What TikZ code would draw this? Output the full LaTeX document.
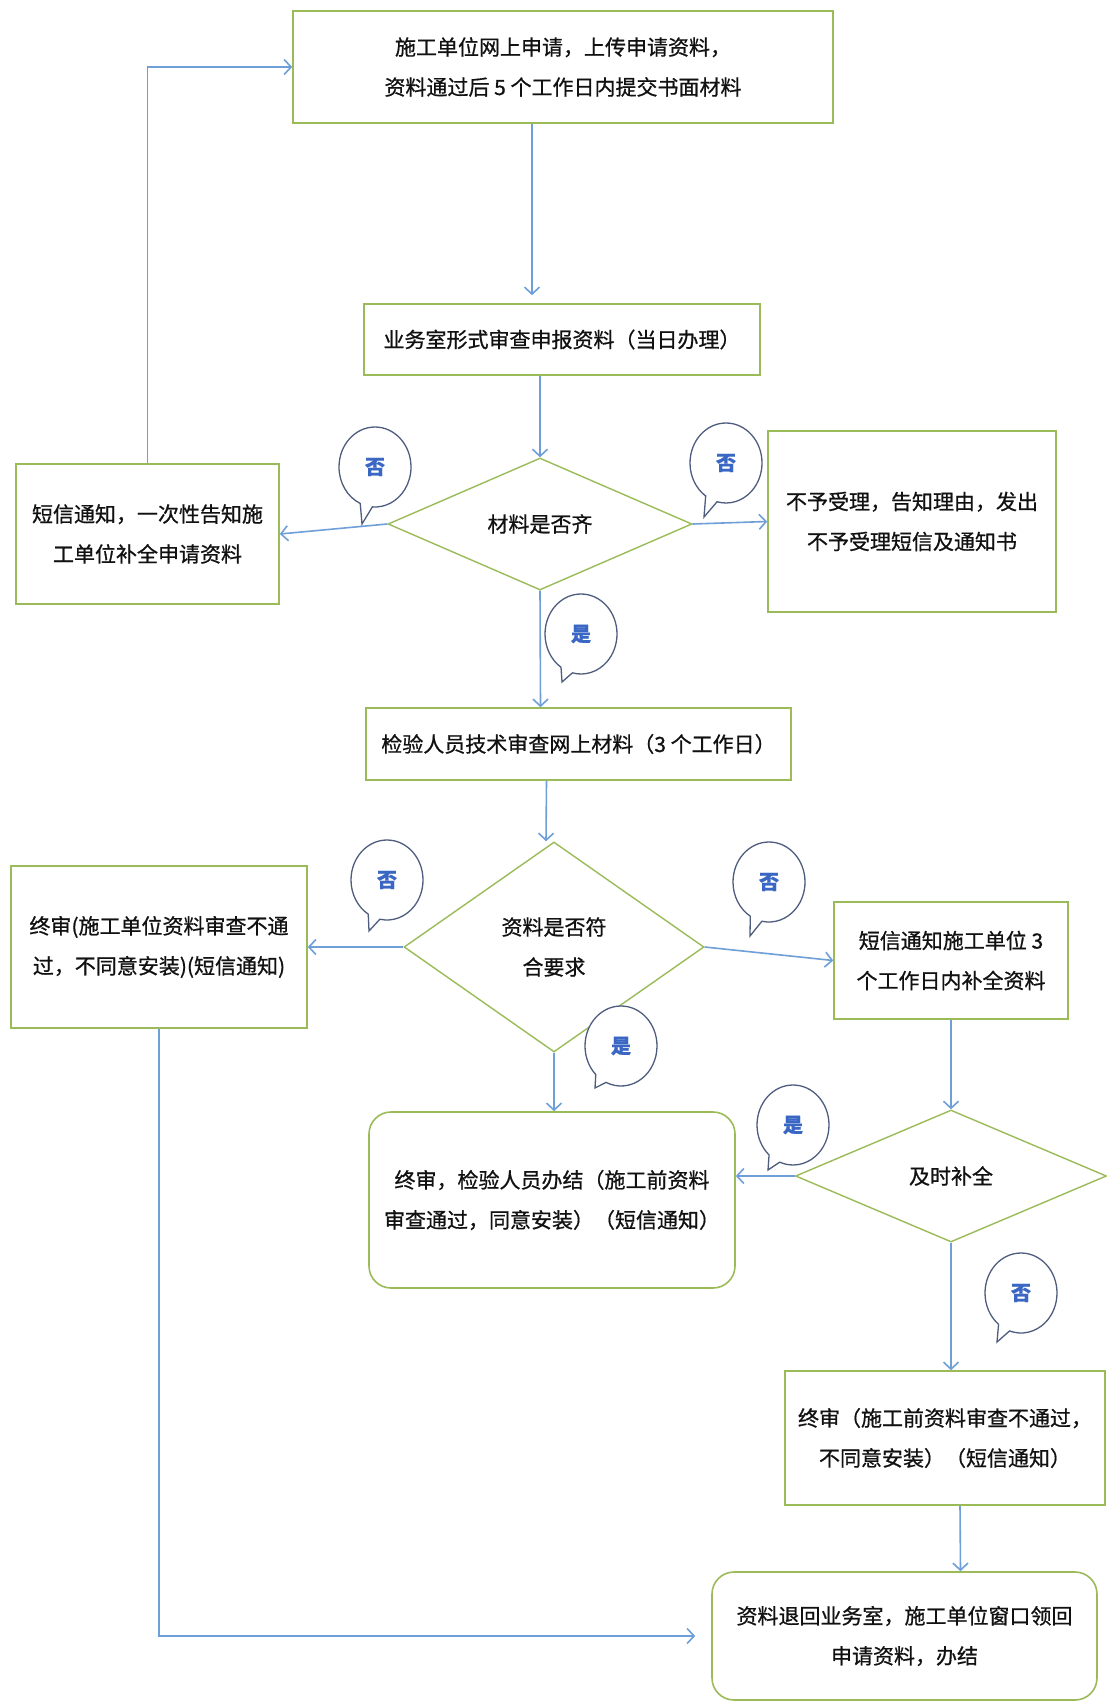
\documentclass[tikz,border=0pt]{standalone}
\usepackage{fontspec}
\setmainfont{Noto Sans CJK SC}[FakeBold=0.8]
\usetikzlibrary{shapes.geometric,shapes.callouts,arrows.meta,calc}
\definecolor{boxgreen}{HTML}{9BBB59}
\definecolor{arrblue}{HTML}{6F9FD8}
\definecolor{bubline}{HTML}{4E5D7E}
\definecolor{bubtext}{HTML}{3A66C4}
\definecolor{txt}{HTML}{111111}
\begin{document}
\begin{tikzpicture}[x=1pt,y=-1pt,
  font=\fontsize{21}{40}\selectfont,
  box/.style={draw=boxgreen, line width=1.6pt, fill=white, align=center, text=txt, inner sep=0pt},
  rbox/.style={box, rounded corners=22pt},
  dec/.style={draw=boxgreen, line width=1.4pt, diamond, fill=white, align=center, inner sep=0pt, text=txt, aspect=1},
  arr/.style={draw=arrblue, line width=1.6pt, -{Straight Barb[length=7pt,width=15pt]}},
  bub/.style={ellipse callout, draw=bubline, line width=1.3pt, fill=white, minimum width=72pt, minimum height=80pt, inner sep=0pt, text=bubtext, font=\fontsize{20}{24}\selectfont\bfseries, callout pointer arc=20}
]
\fill[white] (0,0) rectangle (1107,1704);
\useasboundingbox (0,0) rectangle (1107,1704);

% boxes
\node[box, minimum width=540pt, minimum height=112pt] (b1) at (563,67) {施工单位网上申请，上传申请资料，\\资料通过后 5 个工作日内提交书面材料};
\node[box, minimum width=396pt, minimum height=71pt] (b2) at (562,339.5) {业务室形式审查申报资料（当日办理）};
\node[dec, minimum width=304pt, minimum height=132pt] (d1) at (540,524) {材料是否齐};
\node[box, minimum width=263pt, minimum height=140pt] (bl1) at (147.5,534) {短信通知，一次性告知施\\工单位补全申请资料};
\node[box, minimum width=288pt, minimum height=181pt] (br1) at (912,521.5) {不予受理，告知理由，发出\\不予受理短信及通知书};
\node[box, minimum width=425pt, minimum height=72pt] (b3) at (578.5,744) {检验人员技术审查网上材料（3 个工作日）};
\node[dec, minimum width=300pt, minimum height=210pt] (d2) at (554,947) {资料是否符\\合要求};
\node[box, minimum width=296pt, minimum height=162pt] (bl2) at (159,947) {终审(施工单位资料审查不通\\过，不同意安装)(短信通知)};
\node[box, minimum width=234pt, minimum height=117pt] (br2) at (951,960.5) {短信通知施工单位 3\\个工作日内补全资料};
\node[rbox, minimum width=366pt, minimum height=176pt] (b4) at (552,1200) {终审，检验人员办结（施工前资料\\审查通过，同意安装）（短信通知）};
\node[dec, minimum width=311pt, minimum height=132pt] (d3) at (951,1176) {及时补全};
\node[box, minimum width=320pt, minimum height=134pt] (b5) at (945,1438) {终审（施工前资料审查不通过，\\不同意安装）（短信通知）};
\node[rbox, minimum width=385pt, minimum height=128pt] (b6) at (904.5,1636) {资料退回业务室，施工单位窗口领回\\申请资料，办结};

% connectors
\draw[arr, shorten >=8pt] ($(b1.south)+(-31,0)$) -- ($(b2.north)+(-30,0)$);
\draw[arr] ($(b2.south)+(-22,0)$) -- (d1.north);
\draw[arr] (d1.west) -- (bl1.east);
\draw[arr] (d1.east) -- (br1.west);
\draw[arr] (bl1.north) |- (b1.west);
\draw[arr] (d1.south) -- ($(b3.north)+(-38,0)$);
\draw[arr] ($(b3.south)+(-32,0)$) -- ($(d2.north)+(-8,0)$);
\draw[arr] (d2.west) -- (bl2.east);
\draw[arr] (d2.east) -- (br2.west);
\draw[arr] (d2.south) -- (d2.south |- b4.north);
\draw[arr] (br2.south) -- (d3.north);
\draw[arr] (d3.west) -- (d3.west -| b4.east);
\draw[arr] (d3.south) -- (d3.south |- b5.north);
\draw[arr] ($(b5.south)+(15,0)$) -- ($(b6.north)+(56,0)$);
\draw[arr, shorten >=16pt] (bl2.south) |- (b6.west);

% bubbles
\node[bub, callout absolute pointer={(362,524)}] (n1) at (375,467) {否};
\node[bub, callout absolute pointer={(704,517)}] (n2) at (726,463) {否};
\node[bub, callout absolute pointer={(562,682)}] (n3) at (581,634) {是};
\node[bub, callout absolute pointer={(369,931)}] (n4) at (387,880) {否};
\node[bub, callout absolute pointer={(750,936)}] (n5) at (769,882) {否};
\node[bub, callout absolute pointer={(595,1088)}] (n6) at (621,1046) {是};
\node[bub, callout absolute pointer={(768,1170)}] (n7) at (793,1125) {是};
\node[bub, callout absolute pointer={(997,1342)}] (n8) at (1021,1293) {否};
\end{tikzpicture}
\end{document}
